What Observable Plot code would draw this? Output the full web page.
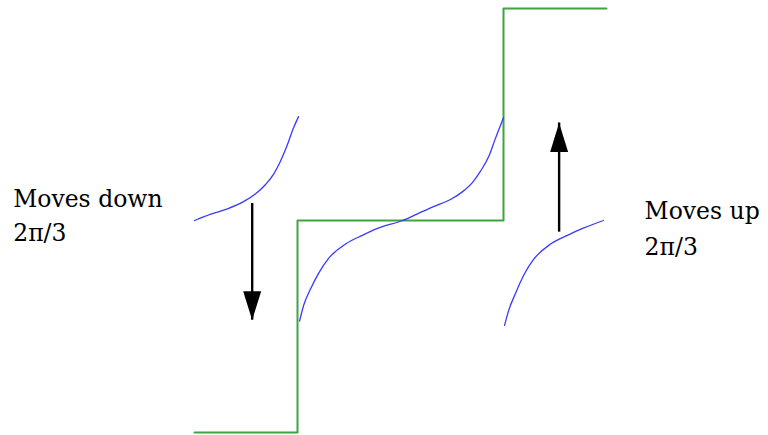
<!DOCTYPE html>
<html>
<head>
<meta charset="utf-8">
<script src="https://cdn.jsdelivr.net/npm/d3@7"></script>
<script src="https://cdn.jsdelivr.net/npm/@observablehq/plot@0.6"></script>
<style>
  html, body { margin: 0; padding: 0; background: #fff; }
  #chart svg { display: block; }
</style>
</head>
<body>
<div id="chart"></div>
<script>
// Step (green) function: phase levels in units of π/3
const stepX = [-2, -1, 1, 2];
const stepY = [-2, 0, 2, 2];

// Blue curve segments, y in units of π/3
const leftX  = [-2.0, -1.84, -1.68, -1.52, -1.41, -1.31, -1.23, -1.17, -1.10, -1.04, -0.99];
const leftY  = [0, 0.06, 0.11, 0.18, 0.25, 0.34, 0.44, 0.55, 0.71, 0.87, 0.98];

const midX = [-0.98, -0.94, -0.87, -0.79, -0.70, -0.53, -0.37, -0.21, 0.02, 0.16, 0.32, 0.49, 0.60, 0.70, 0.78, 0.86, 0.92, 1.0];
const midY = [-0.95, -0.80, -0.64, -0.49, -0.36, -0.22, -0.14, -0.07, 0, 0.06, 0.13, 0.20, 0.27, 0.36, 0.47, 0.61, 0.77, 0.97];

const rightX = [1.01, 1.05, 1.12, 1.20, 1.29, 1.46, 1.62, 1.78, 1.97];
const rightY = [-0.99, -0.85, -0.68, -0.51, -0.37, -0.22, -0.14, -0.07, 0];

// Arrows
const arrowX    = [-1.44, 1.54];
const arrowFrom = [0.16, -0.11];
const arrowTo   = [-0.94, 0.92];

// Labels
const labelLines = [["Moves down", "2π/3"], ["Moves up", "2π/3"]];
const labelX = [-3.76, 2.37];
const labelY = [[0.13, -0.195], [0.015, -0.33]];

const seg = (xs, ys, id) => xs.map((x, i) => ({x, y: ys[i], id}));
const blue = [...seg(leftX, leftY, "L"), ...seg(midX, midY, "M"), ...seg(rightX, rightY, "R")];
const step = seg(stepX, stepY, "S");
const arrows = arrowX.map((x, i) => ({x, from: arrowFrom[i], to: arrowTo[i], rot: arrowTo[i] > arrowFrom[i] ? 0 : 180}));
const labels = [];
labelLines.forEach((lines, i) => lines.forEach((t, j) => labels.push({text: t, x: labelX[i], y: labelY[i][j]})));

// narrow filled arrowhead, tip at origin pointing up
const head = {
  draw(context, size) {
    const s = Math.sqrt(size) / 20;
    const w = 9 * s, l = 29 * s;
    context.moveTo(0, 0);
    context.lineTo(w, l);
    context.lineTo(-w, l);
    context.closePath();
  }
};

const chart = Plot.plot({
  width: 768,
  height: 435,
  margin: 0,
  x: {domain: [-2, 2], range: [194, 606], axis: null},
  y: {domain: [-2, 2], range: [432, 8], axis: null},
  style: {background: "#fff"},
  marks: [
    Plot.line(step, {x: "x", y: "y", curve: "step-after", stroke: "#3fa33f", strokeWidth: 2}),
    Plot.line(blue, {x: "x", y: "y", z: "id", curve: "monotone-x", stroke: "#3a3aff", strokeWidth: 1.3}),
    Plot.ruleX(arrows, {x: "x", y1: "from", y2: "to", stroke: "#000", strokeWidth: 2.4}),
    Plot.dot(arrows, {x: "x", y: "to", symbol: head, r: 20 / Math.sqrt(Math.PI), rotate: "rot", fill: "#000", stroke: "none"}),
    Plot.text(labels, {x: "x", y: "y", text: "text", textAnchor: "start", lineAnchor: "bottom", fontFamily: "DejaVu Serif", fontSize: 23.5, fill: "#000"})
  ]
});
document.getElementById("chart").appendChild(chart);
</script>
</body>
</html>
